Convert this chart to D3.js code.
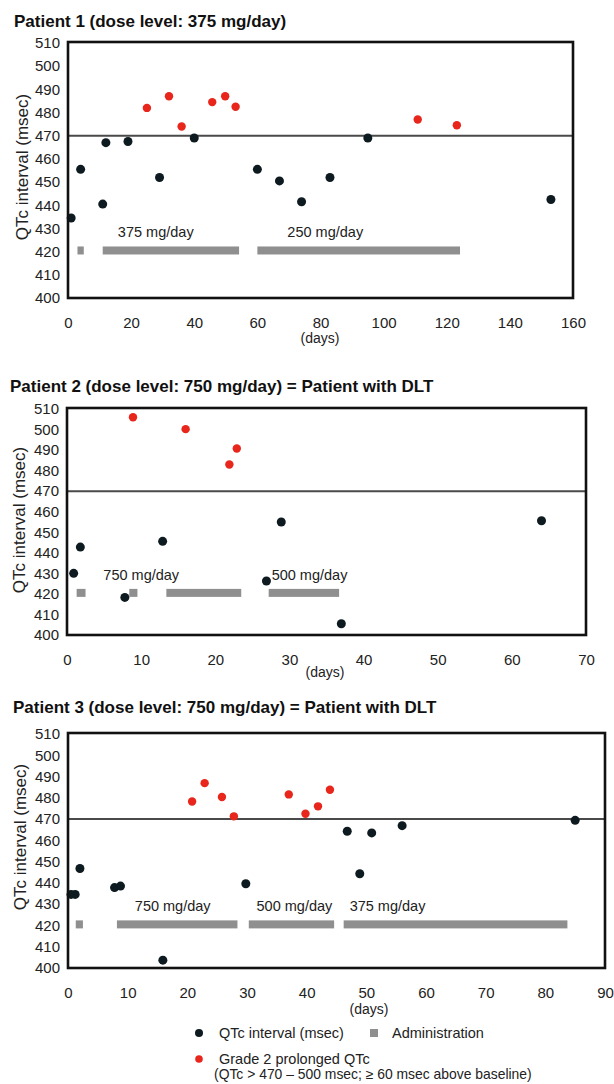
<!DOCTYPE html>
<html>
<head>
<meta charset="utf-8">
<script src="https://cdn.jsdelivr.net/npm/d3@7"></script>
<style>
  body { margin: 0; background: #fff; }
  svg { display: block; font-family: "Liberation Sans", Arial, sans-serif; }
  .tick text { fill: #222; font-size: 15px; font-family: "Liberation Sans Narrow", "Arial Narrow", "Liberation Sans", sans-serif; }
</style>
</head>
<body>
<div id="chart"></div>
<script>
// ---- data ----
const yTicks = [400, 410, 420, 430, 440, 450, 460, 470, 480, 490, 500, 510];
const limitQtc = 470;
const adminLevel = 420.5;

// patient 1
const p1Title = "Patient 1 (dose level: 375 mg/day)";
const p1XTicks = [0, 20, 40, 60, 80, 100, 120, 140, 160];
const p1Black = [[1, 434.5], [4, 455.5], [11, 440.5], [12, 467], [19, 467.5], [29, 452], [40, 469],
  [60, 455.5], [67, 450.5], [74, 441.5], [83, 452], [95, 469], [153, 442.5]];
const p1Red = [[25, 482], [32, 487], [36, 474], [45.7, 484.5], [49.8, 487], [53.1, 482.5], [110.8, 477], [123.2, 474.5]];
const p1Admin = [[3, 5], [11, 54.2], [60, 124.2]];
const p1Doses = ["375 mg/day", "250 mg/day"];
const p1DoseDays = [15.8, 69.5];

// patient 2
const p2Title = "Patient 2 (dose level: 750 mg/day) = Patient with DLT";
const p2XTicks = [0, 10, 20, 30, 40, 50, 60, 70];
const p2Black = [[0.9, 430], [1.8, 442.8], [7.8, 418.3], [12.9, 445.6], [26.9, 426.3], [28.9, 455], [37, 405.5], [64, 455.6]];
const p2Red = [[8.9, 506], [16, 500.2], [21.9, 483], [22.9, 490.8]];
const p2Admin = [[1.3, 2.5], [8.4, 9.5], [13.4, 23.5], [27.2, 36.7]];
const p2Doses = ["750 mg/day", "500 mg/day"];
const p2DoseDays = [4.9, 27.6];

// patient 3
const p3Title = "Patient 3 (dose level: 750 mg/day) = Patient with DLT";
const p3XTicks = [0, 10, 20, 30, 40, 50, 60, 70, 80, 90];
const p3Black = [[0.5, 434.6], [1.2, 434.6], [2, 446.8], [7.8, 437.8], [8.8, 438.5], [15.9, 403.7], [29.8, 439.6],
  [46.8, 464.3], [48.9, 444.3], [50.9, 463.5], [56, 466.9], [85, 469.4]];
const p3Red = [[20.8, 478.3], [22.9, 486.9], [25.8, 480.4], [27.8, 471.3], [37, 481.6], [39.8, 472.5], [41.9, 476], [43.9, 483.8]];
const p3Admin = [[1.3, 2.5], [8.2, 28.4], [30.3, 44.6], [46.2, 83.7]];
const p3Doses = ["750 mg/day", "500 mg/day", "375 mg/day"];
const p3DoseDays = [11.2, 31.6, 47.2];

const legendItems = ["QTc interval (msec)", "Administration", "Grade 2  prolonged QTc",
  "(QTc > 470 \u2013 500 msec; \u2265 60 msec above baseline)"];

// ---- drawing ----
const W = 614, H = 1084;
const svg = d3.select("#chart").append("svg")
  .attr("width", W)
  .attr("height", H);

function drawPanel(cfg) {
  const xScale = d3.scaleLinear().domain([0, cfg.xMax]).range([cfg.left, cfg.right]);
  const yScale = d3.scaleLinear().domain([400, 510]).range([cfg.bottom, cfg.top]);
  const g = svg.append("g");

  // title
  g.append("text")
    .attr("x", cfg.titleX)
    .attr("y", cfg.titleY)
    .attr("font-size", 17)
    .attr("font-weight", "bold")
    .attr("fill", "#111")
    .text(cfg.title);

  // plot background
  g.append("rect")
    .attr("x", cfg.left)
    .attr("y", cfg.top - 1)
    .attr("width", cfg.right - cfg.left)
    .attr("height", cfg.bottom - cfg.top + 1)
    .attr("fill", "#fff");

  // axes (labels only, frame drawn separately)
  g.append("g")
    .attr("transform", "translate(" + cfg.left + ",0)")
    .call(d3.axisLeft(yScale).tickValues(yTicks).tickSize(0).tickPadding(8))
    .call(a => a.select(".domain").remove());
  g.append("g")
    .attr("transform", "translate(0," + cfg.bottom + ")")
    .call(d3.axisBottom(xScale).tickValues(cfg.xTicks).tickSize(0).tickPadding(19))
    .call(a => a.select(".domain").remove());

  // axis titles
  g.append("text")
    .attr("transform", "translate(" + cfg.yLabelX + "," + cfg.yLabelY + ") rotate(-90)")
    .attr("text-anchor", "middle")
    .attr("font-size", 17)
    .attr("fill", "#222")
    .text("QTc interval (msec)");
  g.append("text")
    .attr("x", cfg.daysX)
    .attr("y", cfg.daysY)
    .attr("text-anchor", "middle")
    .attr("font-size", 14)
    .attr("fill", "#222")
    .text("(days)");

  // 470 msec reference line
  g.append("line")
    .attr("x1", cfg.left).attr("x2", cfg.right)
    .attr("y1", yScale(limitQtc)).attr("y2", yScale(limitQtc))
    .attr("stroke", "#4a4a4a")
    .attr("stroke-width", 2);

  // administration bars
  g.selectAll(".adminBar")
    .data(cfg.admin)
    .join("rect")
    .attr("class", "adminBar")
    .attr("x", d => xScale(d[0]))
    .attr("width", d => xScale(d[1]) - xScale(d[0]))
    .attr("y", yScale(adminLevel) - 4)
    .attr("height", 8)
    .attr("fill", "#8f8f8f");

  // dose labels
  g.selectAll(".doseLabel")
    .data(cfg.doses)
    .join("text")
    .attr("class", "doseLabel")
    .attr("x", (d, i) => xScale(cfg.doseDays[i]))
    .attr("y", yScale(adminLevel) - 13)
    .attr("font-size", 14.5)
    .attr("fill", "#222")
    .text(d => d);

  // QTc points
  g.selectAll(".blackDot")
    .data(cfg.black)
    .join("circle")
    .attr("class", "blackDot")
    .attr("cx", d => xScale(d[0]))
    .attr("cy", d => yScale(d[1]))
    .attr("r", 4.5)
    .attr("fill", "#0d1a1f");
  g.selectAll(".redDot")
    .data(cfg.red)
    .join("circle")
    .attr("class", "redDot")
    .attr("cx", d => xScale(d[0]))
    .attr("cy", d => yScale(d[1]))
    .attr("r", 4.2)
    .attr("fill", "#e8261c");

  // frame on top
  g.append("rect")
    .attr("x", cfg.left)
    .attr("y", cfg.top - 1)
    .attr("width", cfg.right - cfg.left)
    .attr("height", cfg.bottom - cfg.top + 1)
    .attr("fill", "none")
    .attr("stroke", "#111")
    .attr("stroke-width", 2.6);
}

drawPanel({
  title: p1Title, titleX: 14, titleY: 27,
  xMax: 160, xTicks: p1XTicks, left: 68, right: 573, top: 43, bottom: 298,
  yLabelX: 28, yLabelY: 167, daysX: 320, daysY: 343,
  black: p1Black, red: p1Red, admin: p1Admin, doses: p1Doses, doseDays: p1DoseDays
});
drawPanel({
  title: p2Title, titleX: 10, titleY: 392,
  xMax: 70, xTicks: p2XTicks, left: 67, right: 586, top: 409, bottom: 635,
  yLabelX: 25, yLabelY: 520, daysX: 325, daysY: 677,
  black: p2Black, red: p2Red, admin: p2Admin, doses: p2Doses, doseDays: p2DoseDays
});
drawPanel({
  title: p3Title, titleX: 13, titleY: 713,
  xMax: 90, xTicks: p3XTicks, left: 68, right: 605, top: 734, bottom: 968,
  yLabelX: 26, yLabelY: 837, daysX: 369, daysY: 1014,
  black: p3Black, red: p3Red, admin: p3Admin, doses: p3Doses, doseDays: p3DoseDays
});

// legend
const legend = svg.append("g").attr("font-size", 14.5).attr("fill", "#222");
legend.append("circle").attr("cx", 199).attr("cy", 1033).attr("r", 4).attr("fill", "#0d1a1f");
legend.append("text").attr("x", 219).attr("y", 1038).text(legendItems[0]);
legend.append("rect").attr("x", 370).attr("y", 1029).attr("width", 8).attr("height", 8).attr("fill", "#8f8f8f");
legend.append("text").attr("x", 392).attr("y", 1038).text(legendItems[1]);
legend.append("circle").attr("cx", 199).attr("cy", 1059).attr("r", 3.8).attr("fill", "#e8261c");
legend.append("text").attr("x", 219).attr("y", 1064).text(legendItems[2]);
legend.append("text").attr("x", 214).attr("y", 1079).attr("font-size", 13.9).text(legendItems[3]);
</script>
</body>
</html>
